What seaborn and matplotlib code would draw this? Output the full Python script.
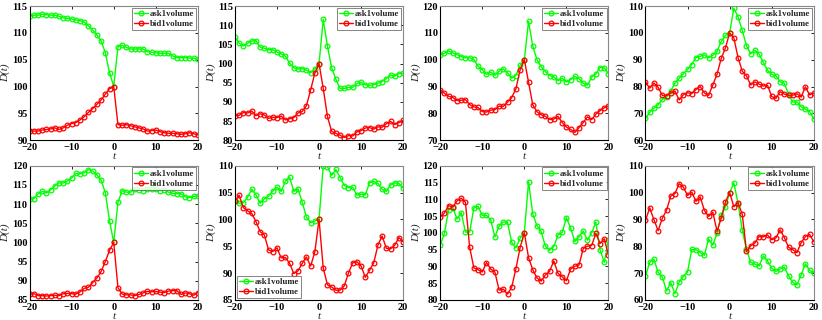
import numpy as np
import pandas as pd
import matplotlib
matplotlib.use("Agg")
import matplotlib.pyplot as plt
import seaborn as sns

t = list(range(-20, 21))

ask_1 = [113.1, 113.3, 113.3, 113.5, 113.4, 113.3, 113.3, 113.1, 112.8, 112.7, 112.6, 112.4, 112.3, 112.0,
         111.3, 110.5, 109.6, 108.5, 106.3, 102.6, 100.0, 107.4, 107.7, 107.3, 107.0, 107.0, 107.0, 107.0,
         106.5, 106.4, 106.3, 106.2, 106.2, 106.2, 105.7, 105.4, 105.4, 105.4, 105.3, 105.3, 105.1]
bid_1 = [91.8, 91.7, 91.7, 91.9, 92.0, 92.1, 92.3, 92.0, 92.3, 92.8, 93.1, 93.3, 93.8, 94.4,
         95.2, 95.9, 96.7, 97.5, 98.6, 99.6, 100.0, 92.9, 92.8, 92.9, 92.7, 92.5, 92.3, 92.1,
         91.7, 91.8, 91.9, 91.6, 91.4, 91.3, 91.3, 91.2, 91.1, 91.2, 91.4, 91.2, 91.0]

ask_2 = [107.0, 105.3, 104.6, 105.3, 105.9, 106.0, 104.3, 104.0, 103.6, 103.6, 103.0, 102.5, 101.9, 100.1,
         98.9, 98.6, 98.7, 98.3, 97.6, 98.6, 100.0, 111.5, 104.5, 98.9, 95.9, 93.5, 93.5, 93.8,
         93.8, 94.8, 95.1, 94.5, 94.3, 94.5, 94.9, 95.3, 96.1, 97.0, 96.7, 97.4, 97.5]
bid_2 = [86.4, 86.5, 87.2, 87.1, 87.6, 86.4, 86.9, 86.6, 85.7, 86.0, 85.9, 86.3, 85.3, 85.6,
         85.9, 87.1, 87.5, 89.0, 93.1, 97.5, 100.0, 93.5, 86.2, 82.3, 81.8, 81.3, 80.7, 81.2,
         81.1, 82.2, 82.5, 83.2, 83.3, 82.9, 83.5, 83.4, 84.3, 84.9, 84.1, 84.6, 85.2]

ask_3 = [101.7, 102.4, 103.3, 102.5, 101.9, 101.2, 100.7, 100.7, 100.1, 97.5, 96.3, 94.5, 95.4, 94.2,
         95.7, 96.6, 95.1, 93.1, 94.1, 97.9, 100.0, 114.3, 105.1, 100.0, 97.4, 95.6, 94.1, 93.6,
         92.2, 93.1, 91.7, 92.6, 93.8, 93.0, 91.2, 90.5, 93.5, 94.7, 97.1, 97.0, 94.8]
bid_3 = [88.8, 87.5, 86.4, 85.9, 84.8, 84.9, 85.1, 83.3, 82.4, 82.2, 80.7, 80.5, 81.2, 81.4,
         82.7, 82.6, 84.2, 85.9, 89.2, 96.3, 100.0, 91.6, 83.2, 80.6, 79.5, 78.9, 77.7, 77.9,
         78.9, 76.6, 74.9, 74.0, 72.9, 74.7, 76.6, 78.7, 77.7, 79.7, 81.0, 82.1, 82.8]

ask_4 = [68.1, 70.4, 71.9, 73.2, 75.2, 76.0, 78.3, 81.3, 83.1, 84.8, 86.4, 88.2, 90.8, 91.3,
         91.8, 90.7, 91.7, 93.1, 96.8, 99.1, 100.0, 109.2, 106.0, 100.9, 95.2, 92.2, 93.5, 92.1,
         89.0, 86.0, 84.6, 84.0, 81.8, 81.2, 77.2, 74.2, 74.3, 72.5, 71.6, 70.7, 68.0]
bid_4 = [81.7, 79.4, 81.3, 79.7, 76.7, 76.6, 77.6, 78.3, 75.0, 77.0, 77.7, 77.4, 78.9, 80.0,
         77.6, 76.7, 80.6, 84.6, 90.5, 94.4, 100.0, 98.1, 90.8, 85.7, 84.0, 80.6, 81.7, 80.9,
         80.2, 80.5, 76.3, 75.6, 78.1, 77.2, 76.7, 76.8, 77.3, 76.1, 79.9, 76.9, 77.6]

ask_5 = [111.2, 111.4, 112.6, 113.3, 112.9, 113.7, 114.7, 115.5, 115.5, 116.0, 116.8, 118.0, 117.9, 118.2,
         119.0, 118.6, 117.6, 116.2, 113.0, 105.6, 100.0, 110.4, 113.5, 113.1, 113.1, 113.9, 113.6, 113.5,
         113.8, 113.8, 113.9, 113.5, 113.7, 113.1, 112.8, 112.7, 112.7, 111.9, 111.7, 112.0, 112.1]
bid_5 = [86.4, 86.6, 86.1, 86.1, 86.0, 86.1, 86.2, 86.1, 86.6, 86.7, 86.6, 86.5, 87.1, 88.0,
         88.3, 89.5, 90.7, 92.4, 95.0, 97.9, 100.0, 88.2, 86.5, 86.3, 86.3, 86.1, 86.4, 86.8,
         87.2, 87.1, 87.2, 87.0, 86.9, 87.3, 87.4, 87.4, 86.4, 86.8, 86.6, 86.2, 86.9]

ask_6 = [103.6, 103.0, 103.1, 104.1, 105.6, 104.6, 103.0, 103.8, 104.3, 105.3, 106.0, 105.2, 107.1, 107.9,
         105.2, 105.7, 103.2, 100.4, 99.4, 99.7, 100.0, 110.0, 109.8, 108.2, 109.3, 107.8, 106.3, 105.9,
         106.0, 104.5, 104.7, 104.6, 106.8, 107.1, 106.7, 105.6, 105.2, 106.4, 106.8, 106.7, 105.8]
bid_6 = [103.4, 104.5, 102.2, 101.6, 101.1, 99.6, 97.7, 97.1, 94.3, 94.0, 94.7, 92.8, 92.9, 91.8,
         89.9, 90.4, 91.8, 93.0, 91.3, 93.9, 100.0, 90.9, 87.8, 87.4, 86.8, 86.8, 87.6, 90.0,
         91.9, 92.1, 91.3, 89.2, 90.5, 91.9, 95.2, 96.9, 94.6, 94.5, 95.2, 96.6, 95.8]

ask_7 = [96.3, 99.8, 106.8, 107.5, 104.1, 106.0, 100.2, 100.2, 107.4, 107.9, 105.2, 105.2, 103.9, 98.8,
         102.0, 103.2, 103.2, 97.1, 95.5, 98.4, 100.0, 115.2, 105.6, 102.1, 100.4, 96.0, 94.8, 95.9,
         99.3, 100.1, 104.5, 101.4, 97.4, 98.8, 100.5, 97.8, 99.9, 103.2, 94.9, 91.2, 97.9]
bid_7 = [104.7, 105.9, 108.1, 107.7, 109.5, 110.3, 109.1, 95.7, 89.5, 89.0, 88.3, 91.1, 89.2, 88.3,
         82.9, 83.2, 81.7, 83.8, 89.3, 95.6, 100.0, 92.6, 89.0, 86.5, 85.6, 87.4, 88.5, 91.6,
         87.9, 86.9, 85.7, 89.2, 90.0, 90.4, 95.3, 96.0, 96.2, 99.8, 96.8, 98.2, 93.3]

ask_8 = [68.9, 74.0, 75.1, 70.2, 68.5, 63.4, 66.4, 62.3, 66.6, 68.7, 70.4, 78.8, 78.7, 77.6,
         76.6, 82.7, 80.4, 84.8, 91.7, 94.6, 100.0, 103.6, 95.9, 86.0, 78.8, 74.0, 73.3, 72.6,
         76.4, 74.5, 71.8, 70.6, 71.5, 72.2, 69.0, 66.5, 65.6, 69.3, 73.4, 71.0, 70.1]
bid_8 = [89.6, 94.3, 89.9, 85.8, 90.4, 93.4, 98.7, 99.6, 103.3, 102.0, 98.9, 100.2, 96.7, 98.4,
         93.3, 91.1, 92.7, 85.6, 90.4, 96.5, 100.0, 94.7, 96.2, 91.9, 78.1, 80.1, 81.2, 83.6,
         83.5, 84.2, 82.4, 83.1, 86.1, 83.2, 79.6, 78.7, 77.6, 81.3, 83.6, 84.4, 81.7]

asks = [ask_1, ask_2, ask_3, ask_4, ask_5, ask_6, ask_7, ask_8]
bids = [bid_1, bid_2, bid_3, bid_4, bid_5, bid_6, bid_7, bid_8]
ylims = [(90, 115, 5), (80, 115, 5), (70, 120, 10), (60, 110, 10),
         (85, 120, 5), (85, 110, 5), (80, 120, 5), (60, 110, 10)]
legend_loc = ["upper right"] * 5 + ["lower left"] + ["upper right"] * 2

sns.set_style("white")
plt.rcParams['font.family'] = ['Liberation Serif', 'DejaVu Serif']
plt.rcParams['font.weight'] = 'bold'

fig, axes = plt.subplots(2, 4, figsize=(8.22, 3.2), dpi=100)
fig.subplots_adjust(left=0.036, right=0.99, top=0.981, bottom=0.063, wspace=0.22, hspace=0.19)

for i, ax in enumerate(axes.flat):
    df = pd.DataFrame({"t": t * 2,
                       "D": asks[i] + bids[i],
                       "series": ["ask1volume"] * 41 + ["bid1volume"] * 41})
    sns.lineplot(data=df, x="t", y="D", hue="series", palette=["#00ff00", "#ff0000"],
                 marker="o", markersize=3.4, linewidth=1.0, legend=False, ax=ax)
    # hollow markers with the line colour (seaborn uses a white edge by default)
    for ln in ax.lines:
        ln.set_markerfacecolor("none")
        ln.set_markeredgecolor(ln.get_color())
        ln.set_markeredgewidth(0.9)
    lo, hi, step = ylims[i]
    ax.set_xlim(-20, 20)
    ax.set_ylim(lo, hi)
    ax.set_xticks([-20, -10, 0, 10, 20])
    ax.set_xticklabels(["\u221220", "\u221210", "0", "10", "20"])
    ax.set_yticks(np.arange(lo, hi + 1, step))
    ax.tick_params(direction="in", length=2.5, width=0.6, labelsize=7.5, pad=1.5,
                   top=True, right=True, colors="black")
    ax.tick_params(axis="x", pad=2.2)
    for s in ["left", "bottom"]:
        ax.spines[s].set_color("black")
        ax.spines[s].set_linewidth(0.8)
    for s in ["top", "right"]:
        ax.spines[s].set_color("#888888")
        ax.spines[s].set_linewidth(0.8)
    ax.set_xlabel("t", fontstyle="italic", fontsize=8, labelpad=0)
    ax.set_ylabel("D(t)", fontstyle="italic", fontsize=8, labelpad=1)
    leg = ax.legend(ax.lines[:2], ["ask1volume", "bid1volume"], loc=legend_loc[i],
                    fontsize=6.3, frameon=True, fancybox=False,
                    borderpad=0.25, handlelength=1.6, handletextpad=0.2, labelspacing=0.2,
                    borderaxespad=0.2)
    leg.get_frame().set_edgecolor("#666666")
    leg.get_frame().set_linewidth(0.7)

plt.savefig("out.png", dpi=100)
